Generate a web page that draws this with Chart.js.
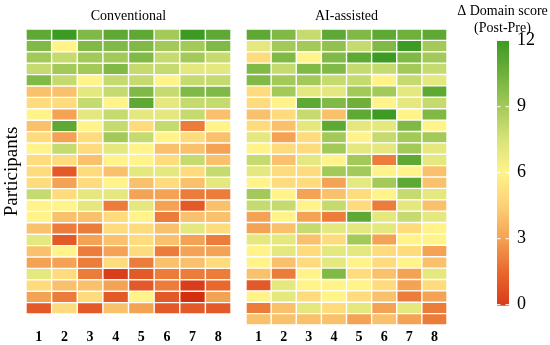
<!DOCTYPE html>
<html>
<head>
<meta charset="utf-8">
<script src="https://cdn.jsdelivr.net/npm/chart.js@4.4.0/dist/chart.umd.min.js"></script>
<style>
  body { margin: 0; background: #fff; }
  #wrap { position: relative; width: 550px; height: 345px; }
  #wrap div { position: absolute; top: 0; height: 345px; }
</style>
</head>
<body>
<div id="wrap">
  <div style="left:0;width:240px"><canvas id="convChart"></canvas></div>
  <div style="left:235px;width:225px"><canvas id="aiChart"></canvas></div>
  <div style="left:455px;width:95px"><canvas id="scaleChart"></canvas></div>
</div>
<script>
// columns (domains) 1..8
var domains = ['1', '2', '3', '4', '5', '6', '7', '8'];

// change in domain score, one row per participant
var conventional = [
  [11, 12, 10, 11, 11, 9, 12, 11],
  [10, 6, 10, 10, 10, 9, 9, 10],
  [9, 8, 9, 9, 10, 8, 9, 8],
  [8, 9, 9, 10, 8, 8, 7, 7],
  [10, 8, 6, 8, 8, 6, 8, 8],
  [4, 4, 7, 8, 10, 8, 10, 10],
  [5, 5, 8, 6, 11, 7, 8, 8],
  [6, 3, 7, 8, 7, 7, 8, 4],
  [4, 11, 6, 8, 5, 8, 2, 6],
  [5, 3, 5, 9, 8, 6, 5, 4],
  [6, 8, 5, 7, 6, 4, 4, 3],
  [5, 5, 4, 6, 6, 5, 8, 4],
  [5, 1, 5, 4, 7, 7, 5, 8],
  [5, 3, 5, 6, 4, 5, 4, 7],
  [8, 5, 7, 7, 3, 3, 2, 2],
  [6, 6, 7, 2, 7, 3, 1, 4],
  [6, 4, 4, 5, 6, 2, 4, 4],
  [4, 2, 2, 5, 5, 4, 7, 5],
  [7, 1, 3, 4, 5, 4, 3, 2],
  [4, 6, 2, 3, 5, 2, 3, 3],
  [3, 3, 2, 5, 2, 4, 4, 5],
  [7, 5, 2, 0, 1, 2, 2, 2],
  [5, 4, 4, 3, 1, 2, 0, 1.5],
  [3, 2, 5, 1, 6, 1, -0.5, 3],
  [1, 5, 1, 4, 3, 1, 1, 1]
];

var aiAssisted = [
  [11, 10, 8, 11, 10, 11, 10.5, 11],
  [7, 9, 9, 9.5, 8, 10, 12, 9],
  [5, 10, 6, 10, 11, 12, 10, 9],
  [10, 8, 10, 10, 8, 8, 9, 8],
  [10, 9, 9, 8, 8, 6, 8, 7],
  [5, 9, 7, 7, 9, 9, 7, 11],
  [5, 6, 11, 10, 10.5, 6, 7, 8],
  [4, 5, 8, 4, 11, 12, 6, 10],
  [5, 4, 7, 11, 7, 7, 10, 6],
  [7, 3, 5, 9, 6, 8, 9, 9],
  [6, 5, 5, 9, 7, 7, 9, 7],
  [8, 4, 7, 6, 9, 2, 11, 7],
  [7, 5, 5, 9, 9, 6, 6, 4],
  [6, 5, 5, 3, 7, 9, 11, 4],
  [9, 6, 3, 4, 5, 6, 8, 7],
  [8, 8, 6, 8, 5, 2, 7, 4],
  [3, 6, 3, 2, 11, 7, 8, 7],
  [3, 4, 8, 7, 7, 7, 5, 6],
  [7, 7, 4, 5, 9, 3, 6, 6],
  [6, 7, 5, 7, 7, 5, 5, 3],
  [6, 4, 5, 7, 6, 5, 6, 4],
  [4, 2, 6, 10, 5, 4, 3, 7],
  [1, 7, 6, 6, 6, 5, 3, 5],
  [6, 7, 5, 6, 5, 4, 2, 3],
  [2, 4, 7, 5, 7, 3, 7, 2],
  [4, 4, 4, 4, 3, 4, 3, 2]
];

// colour bar range and labelled ticks
var scaleMin = -1;
var scaleMax = 12;
var scaleTicks = [0, 3, 6, 9, 12];

// red -> yellow -> green colour map
var mapStops = [-1, 0, 1.5, 3, 4.5, 6, 7.5, 9, 10.5, 12];
var mapColors = ['#cc1f00', '#d93d1b', '#e8692e', '#f4a253', '#fdd078',
                 '#fff38a', '#d8e37a', '#a3ca59', '#6fb03b', '#3d9a22'];

function hexToRgb(h) {
  return [parseInt(h.substr(1, 2), 16), parseInt(h.substr(3, 2), 16), parseInt(h.substr(5, 2), 16)];
}

function scoreColor(v) {
  if (v <= mapStops[0]) return mapColors[0];
  for (var i = 1; i < mapStops.length; i++) {
    if (v <= mapStops[i]) {
      var t = (v - mapStops[i - 1]) / (mapStops[i] - mapStops[i - 1]);
      var a = hexToRgb(mapColors[i - 1]), b = hexToRgb(mapColors[i]);
      var c = a.map(function (x, k) { return Math.round(x + (b[k] - x) * t); });
      return 'rgb(' + c.join(',') + ')';
    }
  }
  return mapColors[mapColors.length - 1];
}

Chart.defaults.font.family = "'Liberation Serif', 'DejaVu Serif', serif";
Chart.defaults.color = '#000';

function makeHeatmap(id, title, scores, opt) {
  // one floating-bar dataset per participant row
  var datasets = scores.map(function (row, r) {
    return {
      data: row.map(function () { return [r, r + 1]; }),
      backgroundColor: row.map(scoreColor),
      borderColor: '#fff',
      borderWidth: 0.7,
      borderSkipped: false,
      inflateAmount: 0,
      barPercentage: 1,
      categoryPercentage: 1,
      grouped: false
    };
  });

  return new Chart(document.getElementById(id), {
    type: 'bar',
    data: { labels: domains, datasets: datasets },
    options: {
      responsive: true,
      maintainAspectRatio: false,
      animation: false,
      layout: { padding: { left: opt.padLeft, right: opt.padRight, top: 0, bottom: 0 } },
      plugins: {
        legend: { display: false },
        tooltip: { enabled: false },
        title: {
          display: true,
          text: title,
          fullSize: false,
          font: { size: 14, weight: 'normal' },
          padding: { top: 8, bottom: 4.2 }
        }
      },
      scales: {
        x: {
          grid: { display: false, drawTicks: false },
          border: { display: false },
          ticks: { font: { size: 14, weight: 'bold' }, padding: opt.tickPad, maxRotation: 0 },
          afterFit: function (s) { s.height = opt.xHeight; }
        },
        y: {
          display: opt.showY,
          min: 0,
          max: scores.length,
          reverse: true,
          grid: { display: false, drawTicks: false },
          border: { display: false },
          ticks: { display: false },
          title: { display: true, text: 'Participants', font: { size: 19 }, padding: { top: 1, bottom: 0 } },
          afterFit: function (s) { s.width = opt.showY ? 26 : 0; }
        }
      }
    }
  });
}

makeHeatmap('convChart', 'Conventional', conventional,
  { padLeft: 0, padRight: 9, xHeight: 31, tickPad: 14.5, showY: true });
makeHeatmap('aiChart', 'AI-assisted', aiAssisted,
  { padLeft: 11, padRight: 13, xHeight: 20, tickPad: 3.5, showY: false });

// colour bar drawn as one floating bar with a gradient fill
new Chart(document.getElementById('scaleChart'), {
  type: 'bar',
  data: {
    labels: [''],
    datasets: [{
      data: [[scaleMin, scaleMax]],
      backgroundColor: function (ctx) {
        var chart = ctx.chart;
        if (!chart.chartArea) return '#fff38a';
        var ys = chart.scales.y;
        var g = chart.ctx.createLinearGradient(0, ys.getPixelForValue(scaleMin), 0, ys.getPixelForValue(scaleMax));
        mapStops.forEach(function (s, i) {
          g.addColorStop((s - scaleMin) / (scaleMax - scaleMin), mapColors[i]);
        });
        return g;
      },
      borderWidth: 0,
      inflateAmount: 0,
      barPercentage: 1,
      categoryPercentage: 1
    }]
  },
  options: {
    responsive: true,
    maintainAspectRatio: false,
    animation: false,
    layout: { padding: { left: 0, right: 0, top: 0, bottom: 17.2 } },
    plugins: {
      legend: { display: false },
      tooltip: { enabled: false },
      title: {
        display: true,
        text: ['\u0394 Domain score', '(Post-Pre)'],
        font: { size: 14, weight: 'normal' },
        padding: { top: 3.3, bottom: 3.8 }
      }
    },
    scales: {
      x: { display: false },
      // empty left axis, only to push the bar to the right
      spacer: {
        position: 'left',
        grid: { display: false, drawTicks: false },
        border: { display: false },
        ticks: { display: false },
        afterFit: function (s) { s.width = 42; }
      },
      y: {
        position: 'right',
        min: scaleMin,
        max: scaleMax,
        afterBuildTicks: function (s) {
          s.ticks = scaleTicks.map(function (v) { return { value: v }; });
        },
        grid: {
          z: 1,
          drawTicks: false,
          lineWidth: 1.2,
          color: function (c) { return c.tick && c.tick.value === scaleMax ? 'rgba(0,0,0,0)' : 'rgba(255,255,255,0.85)'; }
        },
        border: { display: false, dash: [3.5, 5] },
        ticks: { font: { size: 18 }, padding: 8 },
        afterFit: function (s) { s.width = 41; }
      }
    }
  }
});
</script>
</body>
</html>
